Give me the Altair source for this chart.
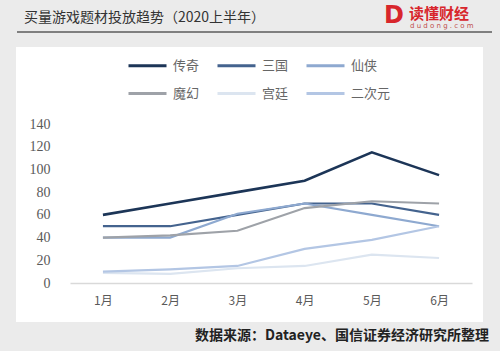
import altair as alt
import pandas as pd

months = ["1月", "2月", "3月", "4月", "5月", "6月"]
series = ["传奇", "三国", "仙侠", "魔幻", "宫廷", "二次元"]
chuanqi = [60, 70, 80, 90, 115, 95]
sanguo = [50, 50, 60, 70, 70, 60]
xianxia = [40, 40, 61, 70, 60, 50]
mohuan = [40, 42, 46, 66, 72, 70]
gongting = [9, 8, 13, 15, 25, 22]
erciyuan = [10, 12, 15, 30, 38, 50]
colors = ["#1c3557", "#44638e", "#8ea9d0", "#9ea2a8", "#dce5f0", "#b3c6e4"]
y_ticks = [0, 20, 40, 60, 80, 100, 120, 140]

title_text = "买量游戏题材投放趋势（2020上半年）"
source_text = "数据来源：Dataeye、国信证券经济研究所整理"

vals = [chuanqi, sanguo, xianxia, mohuan, gongting, erciyuan]
rows = []
for s, v in zip(series, vals):
    for m, y in zip(months, v):
        rows.append({"题材": s, "月份": m, "值": y})
df = pd.DataFrame(rows)
one = pd.DataFrame({"a": [0]})

CJK = "Noto Sans CJK SC"

panel = alt.Chart(one).mark_rect(color="white").encode(
    x=alt.value(-54), x2=alt.value(413), y=alt.value(-77), y2=alt.value(198)
)
title = alt.Chart(one).mark_text(
    text=title_text, font=CJK, fontSize=14, color="#333333", align="left", baseline="middle"
).encode(x=alt.value(-46), y=alt.value(-106))
hr = alt.Chart(one).mark_rule(color="#7f7f7f", strokeWidth=2).encode(
    x=alt.value(-53), x2=alt.value(422), y=alt.value(-92)
)
logo_d = alt.Chart(one).mark_text(
    text="D", font="DejaVu Sans", fontWeight="bold", fontSize=24, color="#d8262c",
    align="center", baseline="middle"
).encode(x=alt.value(324), y=alt.value(-108))
logo_t = alt.Chart(one).mark_text(
    text="读懂财经", font=CJK, fontWeight="bold", fontSize=15, color="#d8262c",
    align="left", baseline="middle"
).encode(x=alt.value(339), y=alt.value(-110))
logo_s = alt.Chart(one).mark_text(
    text="d u d o n g . c o m", font="DejaVu Sans", fontSize=7, color="#c0504d",
    align="left", baseline="middle"
).encode(x=alt.value(340), y=alt.value(-98))
source = alt.Chart(one).mark_text(
    text=source_text, font=CJK, fontWeight="bold", fontSize=14, color="#222222",
    align="right", baseline="middle"
).encode(x=alt.value(419), y=alt.value(212))

lines = alt.Chart(df).mark_line().encode(
    x=alt.X("月份:N", sort=months, scale=alt.Scale(type="point", padding=0.49),
            axis=alt.Axis(title=None, labelAngle=0, ticks=False, domainColor="#d9d9d9",
                          domainWidth=1.5, labelFont=CJK, labelFontSize=12,
                          labelColor="#595959", labelPadding=12, grid=False, zindex=1)),
    y=alt.Y("值:Q", scale=alt.Scale(domain=[0, 140], nice=False),
            axis=alt.Axis(title=None, values=y_ticks, ticks=False, domain=False, grid=False,
                          labelFont="Liberation Serif", labelFontSize=14,
                          labelColor="#595959", labelPadding=20, zindex=1)),
    color=alt.Color("题材:N", sort=series,
                    scale=alt.Scale(domain=series, range=colors),
                    legend=alt.Legend(orient="none", legendX=57, legendY=-79, direction="horizontal",
                                      columns=3, symbolType="stroke", symbolSize=1444,
                                      symbolStrokeWidth=3, labelFont=CJK, labelFontSize=13,
                                      labelColor="#666666", columnPadding=11, rowPadding=-16,
                                      labelOffset=5, title=None, zindex=1)),
    strokeWidth=alt.condition(alt.datum["题材"] == "传奇", alt.value(2.6), alt.value(2.2)),
)

chart = alt.layer(panel, title, hr, logo_d, logo_t, logo_s, source, lines).properties(
    width=402, height=159,
    padding={"left": 70, "top": 124, "right": 28, "bottom": 68},
    autosize=alt.AutoSizeParams(type="none"),
).configure(background="#ebebeb").configure_view(strokeWidth=0)

chart.save("out.html", embed_options={"renderer": "svg", "actions": False})
